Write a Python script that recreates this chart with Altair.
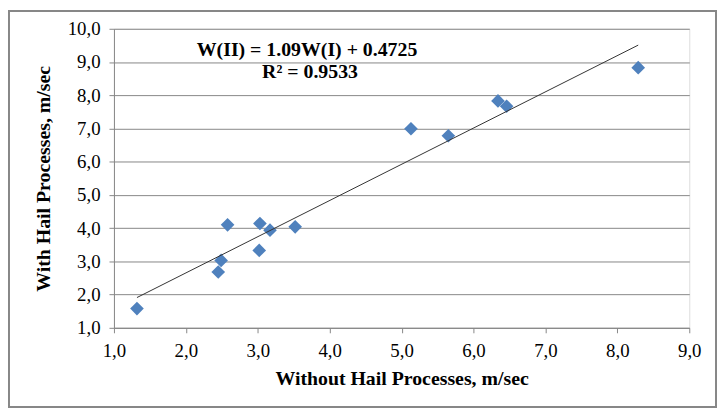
import altair as alt
import pandas as pd

# Data
without_hail = [1.32, 2.45, 2.49, 2.58, 3.02, 3.03, 3.17, 3.52, 5.13, 5.65, 6.34, 6.46, 8.29]
with_hail = [1.58, 2.68, 3.03, 4.10, 3.33, 4.14, 3.94, 4.04, 6.99, 6.78, 7.83, 7.67, 8.83]

slope = 1.09
intercept = 0.4725
equation_text = "W(II) = 1.09W(I) + 0.4725"
r2_text = "R² = 0.9533"

x_title = "Without Hail Processes, m/sec"
y_title = "With Hail Processes, m/sec"
x_ticks = [1, 2, 3, 4, 5, 6, 7, 8, 9]
y_ticks = [1, 2, 3, 4, 5, 6, 7, 8, 9, 10]

df = pd.DataFrame({"x": without_hail, "y": with_hail})
xmin, xmax = min(without_hail), max(without_hail)
trend = pd.DataFrame({"x": [xmin, xmax], "y": [slope * xmin + intercept, slope * xmax + intercept]})

FONT = "Liberation Serif"
GRAY = "#878787"
label_expr = "replace(format(datum.value, '.1f'), '.', ',')"

xscale = alt.Scale(domain=[1, 9], nice=False, zero=False)
yscale = alt.Scale(domain=[1, 10], nice=False, zero=False)

xaxis = alt.Axis(title=x_title, values=x_ticks, tickCount=9, grid=False)
yaxis = alt.Axis(title=y_title, values=y_ticks, tickCount=10, grid=True)

points = alt.Chart(df).mark_point(
    shape="diamond", filled=True, size=190, color="#4F81BD", opacity=1
).encode(
    x=alt.X("x:Q", scale=xscale, axis=xaxis),
    y=alt.Y("y:Q", scale=yscale, axis=yaxis),
)

line = alt.Chart(trend).mark_line(color="#333333", strokeWidth=1).encode(
    x=alt.X("x:Q", scale=xscale, axis=xaxis),
    y=alt.Y("y:Q", scale=yscale, axis=yaxis),
)

one = pd.DataFrame({"a": [0]})
eq1 = alt.Chart(one).mark_text(
    font=FONT, fontSize=20, fontWeight="bold", color="#000", align="center", baseline="middle",
    text=equation_text,
).encode(x=alt.value(195), y=alt.value(21))
eq2 = alt.Chart(one).mark_text(
    font=FONT, fontSize=20, fontWeight="bold", color="#000", align="center", baseline="middle",
    text=r2_text,
).encode(x=alt.value(198), y=alt.value(44))

frame = alt.Chart(one).mark_rect(
    fill=None, stroke=GRAY, strokeWidth=2
).encode(
    x=alt.value(-106), x2=alt.value(608), y=alt.value(-18), y2=alt.value(382)
)

chart = alt.layer(frame, points, line, eq1, eq2).properties(
    width=581, height=302,
    autosize=alt.AutoSizeParams(type="none"),
    padding={"left": 107, "top": 19, "right": 28, "bottom": 82},
).configure_view(stroke=None).configure(background="white").configure_axis(
    labelExpr=label_expr, labelOverlap=False, labelFlush=False,
    domainColor=GRAY, tickColor=GRAY, tickSize=5, gridColor=GRAY, gridWidth=1,
    labelFont=FONT, labelFontSize=19, labelColor="#000",
    titleFont=FONT, titleFontSize=20, titleFontWeight="bold", titleColor="#000",
).configure_axisX(labelPadding=9, titlePadding=8).configure_axisY(labelPadding=9, titlePadding=14)

chart.save("out.html", embed_options={"renderer": "svg", "actions": False})
